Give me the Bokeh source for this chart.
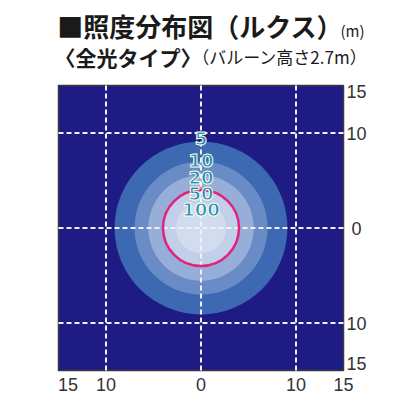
from bokeh.plotting import figure
from bokeh.models import Range1d, Label
from bokeh.core.properties import value
from bokeh.embed import file_html
from bokeh.resources import INLINE

# ---- data ----
levels = ["5", "10", "20", "50", "100"]          # lux levels
radii = [9.1, 7.0, 5.55, 4.0, 2.65]              # radius (m) of each lux zone
band_colors = ["#3C69B1", "#6A8CC6", "#97AED8", "#C2CFE8", "#D2DCEF"]
label_y = [9.4, 7.1, 5.3, 3.65, 2.0]             # where each level label sits
threshold_radius = 4.0                           # magenta circle
grid_ticks = [-10, 0, 10]
extent = 15
x_tick_pos = [-14.0, -10, 0, 10, 15]
x_tick_text = ["15", "10", "0", "10", "15"]
y_tick_pos = [14.4, 10, 0, -10, -14.3]
y_tick_text = ["15", "10", "0", "10", "15"]

W = H = 416
k = 9.5  # px per metre
x0 = -(200.5 / k)
y1 = 227.5 / k

p = figure(width=W, height=H, output_backend="svg", toolbar_location=None,
           x_range=Range1d(x0, x0 + W / k), y_range=Range1d(y1 - H / k, y1),
           min_border=0, outline_line_color=None)
p.axis.visible = False
p.grid.visible = False
p.background_fill_color = "white"
p.border_fill_color = "white"

navy = "#1F1B85"
p.quad(left=-extent, right=extent, bottom=-extent, top=extent,
       fill_color=navy, line_color="#3a3a3a", line_width=1.5)

p.circle(x=[0] * len(radii), y=[0] * len(radii), radius=radii,
         fill_color=band_colors, line_color=None)

# dashed grid
p.segment(x0=grid_ticks, y0=[-extent] * 3, x1=grid_ticks, y1=[extent] * 3,
          line_color="#F0F0F8", line_width=2, line_dash="5 3")
p.segment(x0=[-extent] * 3, y0=grid_ticks, x1=[extent] * 3, y1=grid_ticks,
          line_color="#F0F0F8", line_width=2, line_dash="5 3")

p.circle(x=[0], y=[0], radius=[threshold_radius], fill_color=None,
         line_color="#E2237E", line_width=2.5)

p.text(x=[0] * len(levels), y=label_y, text=levels, text_align="center",
       text_baseline="middle", text_font=value("DejaVu Sans"),
       text_font_size="18px", text_font_style="bold", text_color="#1A8AD0",
       text_outline_color="#FFFFD6")

# tick labels
p.text(x=x_tick_pos, y=[-16.45] * len(x_tick_pos), text=x_tick_text,
       text_align="center", text_baseline="middle",
       text_font=value("Liberation Sans"), text_font_size="18px",
       text_color="#333333")
p.text(x=[16.37] * len(y_tick_pos), y=y_tick_pos, text=y_tick_text,
       text_align="center", text_baseline="middle",
       text_font=value("Liberation Sans"), text_font_size="18px",
       text_color="#333333")

jp = "Noto Sans CJK JP"
p.add_layout(Label(x=56.7, y=H - 25, x_units="screen", y_units="screen",
                   text="■照度分布図（ルクス）", text_font=jp,
                   text_font_size="26px", text_font_style="bold",
                   text_color="#1a1a1a", text_baseline="middle"))
p.add_layout(Label(x=340, y=H - 30, x_units="screen", y_units="screen",
                   text="(m)", text_font=jp, text_font_size="15px",
                   text_color="#1a1a1a", text_baseline="middle"))
p.add_layout(Label(x=54, y=H - 56, x_units="screen", y_units="screen",
                   text="〈全光タイプ〉", text_font=jp,
                   text_font_size="21px", text_font_style="bold",
                   text_color="#1a1a1a", text_baseline="middle"))
p.add_layout(Label(x=191.7, y=H - 56, x_units="screen", y_units="screen",
                   text="（バルーン高さ2.7m）", text_font=jp,
                   text_font_size="17px",
                   text_color="#1a1a1a", text_baseline="middle"))

open("out.html", "w").write(file_html(p, INLINE))
